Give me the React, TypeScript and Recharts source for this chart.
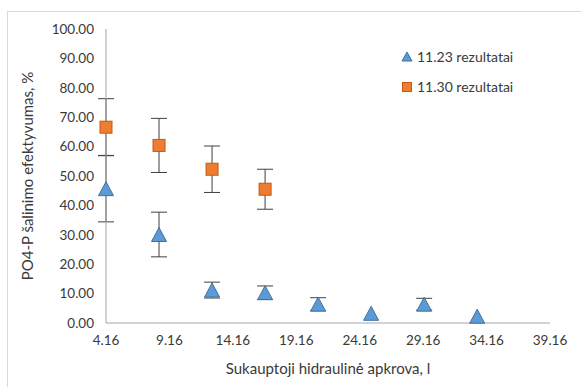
import { ScatterChart, Scatter, XAxis, YAxis, ErrorBar } from "recharts";

// sukauptoji hidraulinė apkrova (x)
const loads = [4.16, 8.34, 12.52, 16.7, 20.88, 25.06, 29.24, 33.42];
const eff1123 = [45.7, 30.1, 11.2, 10.3, 6.4, 3.3, 6.4, 2.3];
const err1123 = [11.3, 7.6, 2.7, 2.3, 2.2, 0, 2.0, 0];
const eff1130 = [66.6, 60.4, 52.3, 45.5];
const err1130 = [9.7, 9.2, 7.9, 6.8];

const xTicks = [4.16, 9.16, 14.16, 19.16, 24.16, 29.16, 34.16, 39.16];
const yTicks = [0, 10, 20, 30, 40, 50, 60, 70, 80, 90, 100];

const series1123 = loads.map((x, i) => ({ x, y: eff1123[i], err: err1123[i] }));
const series1130 = eff1130.map((y, i) => ({ x: loads[i], y, err: err1130[i] }));

const FONT = "Lato, 'Open Sans', sans-serif";
const TEXT = "#3a3a3a";

const Triangle = (props: any) => {
  const { cx, cy } = props;
  const w = 15;
  const h = 14;
  return (
    <path
      d={`M${cx},${cy - h / 2}L${cx + w / 2},${cy + h / 2}L${cx - w / 2},${cy + h / 2}Z`}
      fill="#5B9BD5"
      stroke="#41719C"
      strokeWidth={1}
    />
  );
};

const Square = (props: any) => {
  const { cx, cy } = props;
  const s = 12;
  return <rect x={cx - s / 2} y={cy - s / 2} width={s} height={s} fill="#ED7D31" stroke="#C55A11" strokeWidth={1} />;
};

// error bars are drawn by marker-less series so that markers sit on top
const NoMarker = () => <g />;

const LegendBox = () => (
  <div
    style={{
      position: "absolute",
      left: 401,
      top: 42,
      fontFamily: FONT,
      fontSize: 14,
      color: TEXT,
      lineHeight: "30px",
    }}
  >
    <div style={{ display: "flex", alignItems: "center" }}>
      <svg width={12} height={12} style={{ marginRight: 4 }}>
        <path d="M6,1L11,10L1,10Z" fill="#5B9BD5" stroke="#41719C" />
      </svg>
      11.23 rezultatai
    </div>
    <div style={{ display: "flex", alignItems: "center" }}>
      <svg width={12} height={12} style={{ marginRight: 4 }}>
        <rect x={1.5} y={1.5} width={9} height={9} fill="#ED7D31" stroke="#C55A11" />
      </svg>
      11.30 rezultatai
    </div>
  </div>
);

export default function App() {
  return (
    <div style={{ position: "absolute", left: 0, top: 0, width: 581, height: 387, background: "#fff", overflow: "hidden" }}>
      <div
        style={{
          position: "absolute",
          left: 7,
          top: 11,
          width: 600,
          height: 400,
          border: "1px solid #D9D9D9",
        }}
      />
      <ScatterChart width={581} height={387} margin={{ top: 29, right: 31, bottom: 0, left: 0 }}>
        <XAxis
          type="number"
          dataKey="x"
          domain={[4.16, 39.16]}
          ticks={xTicks}
          tickFormatter={(v) => v.toFixed(2)}
          tick={{ fontSize: 13.5, fill: TEXT, fontFamily: FONT }}
          tickLine={false}
          tickSize={0}
          tickMargin={12}
          axisLine={{ stroke: "#A6A6A6" }}
          height={64}
          label={{
            value: "Sukauptoji hidraulinė apkrova, l",
            position: "insideBottom",
            offset: 13,
            style: { fontSize: 15, fill: TEXT, fontFamily: FONT },
          }}
        />
        <YAxis
          type="number"
          dataKey="y"
          domain={[0, 100]}
          ticks={yTicks}
          tickFormatter={(v) => v.toFixed(2)}
          tick={{ fontSize: 13.5, fill: TEXT, fontFamily: FONT }}
          tickLine={false}
          tickSize={0}
          tickMargin={12}
          axisLine={{ stroke: "#A6A6A6" }}
          width={106}
          label={{
            value: "PO4-P šalinimo efektyvumas, %",
            angle: -90,
            position: "insideLeft",
            offset: 28,
            style: { fontSize: 15, fill: TEXT, fontFamily: FONT, textAnchor: "middle" },
          }}
        />
        <Scatter data={series1123} shape={<NoMarker />} legendType="none" isAnimationActive={false}>
          <ErrorBar dataKey="err" direction="y" width={8} stroke="#404040" strokeWidth={1} />
        </Scatter>
        <Scatter data={series1130} shape={<NoMarker />} legendType="none" isAnimationActive={false}>
          <ErrorBar dataKey="err" direction="y" width={8} stroke="#404040" strokeWidth={1} />
        </Scatter>
        <Scatter name="11.23 rezultatai" data={series1123} shape={<Triangle />} isAnimationActive={false} />
        <Scatter name="11.30 rezultatai" data={series1130} shape={<Square />} isAnimationActive={false} />
      </ScatterChart>
      <LegendBox />
    </div>
  );
}
